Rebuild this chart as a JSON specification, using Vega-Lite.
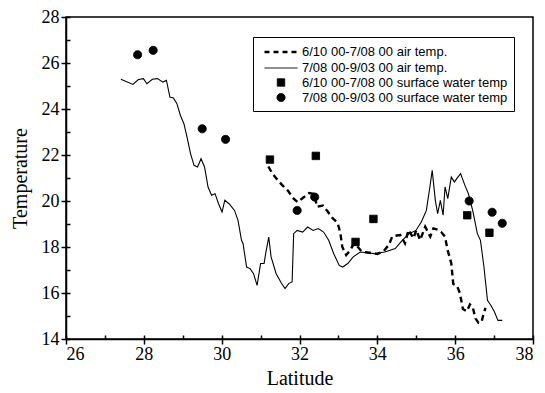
{
  "$schema": "https://vega.github.io/schema/vega-lite/v6.json",
  "width": 467,
  "height": 322,
  "autosize": {"type": "none"},
  "padding": {"left": 66, "top": 17, "right": 12, "bottom": 54},
  "background": "white",
  "config": {
    "view": {"stroke": "black", "strokeWidth": 1.5},
    "axis": {"grid": false, "domainColor": "black", "domainWidth": 1.5, "tickColor": "black", "labelColor": "black", "titleColor": "black", "labelFont": "Liberation Serif", "titleFont": "Liberation Serif", "labelFontSize": 18, "titleFontSize": 20, "titleFontWeight": "normal"}
  },
  "data": {
    "values": [
      {"series": "7/08 00-9/03 00 air temp.", "lat": 27.41, "temp": 25.29},
      {"series": "7/08 00-9/03 00 air temp.", "lat": 27.72, "temp": 25.07},
      {"series": "7/08 00-9/03 00 air temp.", "lat": 27.86, "temp": 25.28},
      {"series": "7/08 00-9/03 00 air temp.", "lat": 27.99, "temp": 25.32},
      {"series": "7/08 00-9/03 00 air temp.", "lat": 28.08, "temp": 25.10},
      {"series": "7/08 00-9/03 00 air temp.", "lat": 28.22, "temp": 25.29},
      {"series": "7/08 00-9/03 00 air temp.", "lat": 28.35, "temp": 25.32},
      {"series": "7/08 00-9/03 00 air temp.", "lat": 28.49, "temp": 25.17},
      {"series": "7/08 00-9/03 00 air temp.", "lat": 28.58, "temp": 25.25},
      {"series": "7/08 00-9/03 00 air temp.", "lat": 28.67, "temp": 24.52},
      {"series": "7/08 00-9/03 00 air temp.", "lat": 28.76, "temp": 24.48},
      {"series": "7/08 00-9/03 00 air temp.", "lat": 28.85, "temp": 24.23},
      {"series": "7/08 00-9/03 00 air temp.", "lat": 28.94, "temp": 23.72},
      {"series": "7/08 00-9/03 00 air temp.", "lat": 29.03, "temp": 23.36},
      {"series": "7/08 00-9/03 00 air temp.", "lat": 29.11, "temp": 22.78},
      {"series": "7/08 00-9/03 00 air temp.", "lat": 29.20, "temp": 22.06},
      {"series": "7/08 00-9/03 00 air temp.", "lat": 29.29, "temp": 21.55},
      {"series": "7/08 00-9/03 00 air temp.", "lat": 29.38, "temp": 21.48},
      {"series": "7/08 00-9/03 00 air temp.", "lat": 29.47, "temp": 21.84},
      {"series": "7/08 00-9/03 00 air temp.", "lat": 29.56, "temp": 21.48},
      {"series": "7/08 00-9/03 00 air temp.", "lat": 29.65, "temp": 20.61},
      {"series": "7/08 00-9/03 00 air temp.", "lat": 29.74, "temp": 20.25},
      {"series": "7/08 00-9/03 00 air temp.", "lat": 29.83, "temp": 20.32},
      {"series": "7/08 00-9/03 00 air temp.", "lat": 29.92, "temp": 19.88},
      {"series": "7/08 00-9/03 00 air temp.", "lat": 30.01, "temp": 19.52},
      {"series": "7/08 00-9/03 00 air temp.", "lat": 30.08, "temp": 20.03},
      {"series": "7/08 00-9/03 00 air temp.", "lat": 30.19, "temp": 19.88},
      {"series": "7/08 00-9/03 00 air temp.", "lat": 30.33, "temp": 19.59},
      {"series": "7/08 00-9/03 00 air temp.", "lat": 30.42, "temp": 19.16},
      {"series": "7/08 00-9/03 00 air temp.", "lat": 30.51, "temp": 18.29},
      {"series": "7/08 00-9/03 00 air temp.", "lat": 30.55, "temp": 18.14},
      {"series": "7/08 00-9/03 00 air temp.", "lat": 30.64, "temp": 17.13},
      {"series": "7/08 00-9/03 00 air temp.", "lat": 30.73, "temp": 17.06},
      {"series": "7/08 00-9/03 00 air temp.", "lat": 30.82, "temp": 16.84},
      {"series": "7/08 00-9/03 00 air temp.", "lat": 30.91, "temp": 16.33},
      {"series": "7/08 00-9/03 00 air temp.", "lat": 31.00, "temp": 17.28},
      {"series": "7/08 00-9/03 00 air temp.", "lat": 31.09, "temp": 17.28},
      {"series": "7/08 00-9/03 00 air temp.", "lat": 31.13, "temp": 17.71},
      {"series": "7/08 00-9/03 00 air temp.", "lat": 31.21, "temp": 18.43},
      {"series": "7/08 00-9/03 00 air temp.", "lat": 31.27, "temp": 17.57},
      {"series": "7/08 00-9/03 00 air temp.", "lat": 31.40, "temp": 16.84},
      {"series": "7/08 00-9/03 00 air temp.", "lat": 31.54, "temp": 16.41},
      {"series": "7/08 00-9/03 00 air temp.", "lat": 31.63, "temp": 16.19},
      {"series": "7/08 00-9/03 00 air temp.", "lat": 31.72, "temp": 16.41},
      {"series": "7/08 00-9/03 00 air temp.", "lat": 31.81, "temp": 16.48},
      {"series": "7/08 00-9/03 00 air temp.", "lat": 31.85, "temp": 18.58},
      {"series": "7/08 00-9/03 00 air temp.", "lat": 31.94, "temp": 18.72},
      {"series": "7/08 00-9/03 00 air temp.", "lat": 32.08, "temp": 18.65},
      {"series": "7/08 00-9/03 00 air temp.", "lat": 32.21, "temp": 18.87},
      {"series": "7/08 00-9/03 00 air temp.", "lat": 32.35, "temp": 18.72},
      {"series": "7/08 00-9/03 00 air temp.", "lat": 32.48, "temp": 18.80},
      {"series": "7/08 00-9/03 00 air temp.", "lat": 32.62, "temp": 18.65},
      {"series": "7/08 00-9/03 00 air temp.", "lat": 32.75, "temp": 18.29},
      {"series": "7/08 00-9/03 00 air temp.", "lat": 32.88, "temp": 17.71},
      {"series": "7/08 00-9/03 00 air temp.", "lat": 33.02, "temp": 17.20},
      {"series": "7/08 00-9/03 00 air temp.", "lat": 33.11, "temp": 17.13},
      {"series": "7/08 00-9/03 00 air temp.", "lat": 33.24, "temp": 17.28},
      {"series": "7/08 00-9/03 00 air temp.", "lat": 33.38, "temp": 17.57},
      {"series": "7/08 00-9/03 00 air temp.", "lat": 33.56, "temp": 17.78},
      {"series": "7/08 00-9/03 00 air temp.", "lat": 33.92, "temp": 17.71},
      {"series": "7/08 00-9/03 00 air temp.", "lat": 34.19, "temp": 17.78},
      {"series": "7/08 00-9/03 00 air temp.", "lat": 34.46, "temp": 17.93},
      {"series": "7/08 00-9/03 00 air temp.", "lat": 34.64, "temp": 18.29},
      {"series": "7/08 00-9/03 00 air temp.", "lat": 34.82, "temp": 18.58},
      {"series": "7/08 00-9/03 00 air temp.", "lat": 34.99, "temp": 18.72},
      {"series": "7/08 00-9/03 00 air temp.", "lat": 35.13, "temp": 19.09},
      {"series": "7/08 00-9/03 00 air temp.", "lat": 35.26, "temp": 19.59},
      {"series": "7/08 00-9/03 00 air temp.", "lat": 35.35, "temp": 20.61},
      {"series": "7/08 00-9/03 00 air temp.", "lat": 35.41, "temp": 21.33},
      {"series": "7/08 00-9/03 00 air temp.", "lat": 35.49, "temp": 20.03},
      {"series": "7/08 00-9/03 00 air temp.", "lat": 35.55, "temp": 19.45},
      {"series": "7/08 00-9/03 00 air temp.", "lat": 35.62, "temp": 20.03},
      {"series": "7/08 00-9/03 00 air temp.", "lat": 35.69, "temp": 19.38},
      {"series": "7/08 00-9/03 00 air temp.", "lat": 35.74, "temp": 20.61},
      {"series": "7/08 00-9/03 00 air temp.", "lat": 35.81, "temp": 20.10},
      {"series": "7/08 00-9/03 00 air temp.", "lat": 35.90, "temp": 21.04},
      {"series": "7/08 00-9/03 00 air temp.", "lat": 35.98, "temp": 20.83},
      {"series": "7/08 00-9/03 00 air temp.", "lat": 36.07, "temp": 21.04},
      {"series": "7/08 00-9/03 00 air temp.", "lat": 36.14, "temp": 21.19},
      {"series": "7/08 00-9/03 00 air temp.", "lat": 36.25, "temp": 20.68},
      {"series": "7/08 00-9/03 00 air temp.", "lat": 36.34, "temp": 20.32},
      {"series": "7/08 00-9/03 00 air temp.", "lat": 36.45, "temp": 19.59},
      {"series": "7/08 00-9/03 00 air temp.", "lat": 36.57, "temp": 18.58},
      {"series": "7/08 00-9/03 00 air temp.", "lat": 36.65, "temp": 18.29},
      {"series": "7/08 00-9/03 00 air temp.", "lat": 36.74, "temp": 17.13},
      {"series": "7/08 00-9/03 00 air temp.", "lat": 36.83, "temp": 15.68},
      {"series": "7/08 00-9/03 00 air temp.", "lat": 36.92, "temp": 15.46},
      {"series": "7/08 00-9/03 00 air temp.", "lat": 37.01, "temp": 15.17},
      {"series": "7/08 00-9/03 00 air temp.", "lat": 37.10, "temp": 14.81},
      {"series": "7/08 00-9/03 00 air temp.", "lat": 37.21, "temp": 14.81},
      {"series": "6/10 00-7/08 00 air temp.", "lat": 31.20, "temp": 21.50},
      {"series": "6/10 00-7/08 00 air temp.", "lat": 31.30, "temp": 21.20},
      {"series": "6/10 00-7/08 00 air temp.", "lat": 31.42, "temp": 20.95},
      {"series": "6/10 00-7/08 00 air temp.", "lat": 31.55, "temp": 20.70},
      {"series": "6/10 00-7/08 00 air temp.", "lat": 31.70, "temp": 20.45},
      {"series": "6/10 00-7/08 00 air temp.", "lat": 31.85, "temp": 20.10},
      {"series": "6/10 00-7/08 00 air temp.", "lat": 31.95, "temp": 19.95},
      {"series": "6/10 00-7/08 00 air temp.", "lat": 32.10, "temp": 20.15},
      {"series": "6/10 00-7/08 00 air temp.", "lat": 32.25, "temp": 20.35},
      {"series": "6/10 00-7/08 00 air temp.", "lat": 32.38, "temp": 20.30},
      {"series": "6/10 00-7/08 00 air temp.", "lat": 32.45, "temp": 19.75},
      {"series": "6/10 00-7/08 00 air temp.", "lat": 32.60, "temp": 19.80},
      {"series": "6/10 00-7/08 00 air temp.", "lat": 32.72, "temp": 19.55},
      {"series": "6/10 00-7/08 00 air temp.", "lat": 32.85, "temp": 19.25},
      {"series": "6/10 00-7/08 00 air temp.", "lat": 32.98, "temp": 19.05},
      {"series": "6/10 00-7/08 00 air temp.", "lat": 33.05, "temp": 18.60},
      {"series": "6/10 00-7/08 00 air temp.", "lat": 33.10, "temp": 18.00},
      {"series": "6/10 00-7/08 00 air temp.", "lat": 33.20, "temp": 17.65},
      {"series": "6/10 00-7/08 00 air temp.", "lat": 33.30, "temp": 17.85},
      {"series": "6/10 00-7/08 00 air temp.", "lat": 33.40, "temp": 18.15},
      {"series": "6/10 00-7/08 00 air temp.", "lat": 33.50, "temp": 18.00},
      {"series": "6/10 00-7/08 00 air temp.", "lat": 33.60, "temp": 17.80},
      {"series": "6/10 00-7/08 00 air temp.", "lat": 33.80, "temp": 17.75},
      {"series": "6/10 00-7/08 00 air temp.", "lat": 34.00, "temp": 17.70},
      {"series": "6/10 00-7/08 00 air temp.", "lat": 34.15, "temp": 17.80},
      {"series": "6/10 00-7/08 00 air temp.", "lat": 34.30, "temp": 18.10},
      {"series": "6/10 00-7/08 00 air temp.", "lat": 34.38, "temp": 18.45},
      {"series": "6/10 00-7/08 00 air temp.", "lat": 34.50, "temp": 18.50},
      {"series": "6/10 00-7/08 00 air temp.", "lat": 34.59, "temp": 18.52},
      {"series": "6/10 00-7/08 00 air temp.", "lat": 34.71, "temp": 18.16},
      {"series": "6/10 00-7/08 00 air temp.", "lat": 34.80, "temp": 18.74},
      {"series": "6/10 00-7/08 00 air temp.", "lat": 34.93, "temp": 18.38},
      {"series": "6/10 00-7/08 00 air temp.", "lat": 35.00, "temp": 18.74},
      {"series": "6/10 00-7/08 00 air temp.", "lat": 35.10, "temp": 18.30},
      {"series": "6/10 00-7/08 00 air temp.", "lat": 35.23, "temp": 18.88},
      {"series": "6/10 00-7/08 00 air temp.", "lat": 35.36, "temp": 18.45},
      {"series": "6/10 00-7/08 00 air temp.", "lat": 35.44, "temp": 18.81},
      {"series": "6/10 00-7/08 00 air temp.", "lat": 35.55, "temp": 18.75},
      {"series": "6/10 00-7/08 00 air temp.", "lat": 35.64, "temp": 18.65},
      {"series": "6/10 00-7/08 00 air temp.", "lat": 35.74, "temp": 18.45},
      {"series": "6/10 00-7/08 00 air temp.", "lat": 35.80, "temp": 17.90},
      {"series": "6/10 00-7/08 00 air temp.", "lat": 35.90, "temp": 17.30},
      {"series": "6/10 00-7/08 00 air temp.", "lat": 35.95, "temp": 16.40},
      {"series": "6/10 00-7/08 00 air temp.", "lat": 36.05, "temp": 16.30},
      {"series": "6/10 00-7/08 00 air temp.", "lat": 36.12, "temp": 16.00},
      {"series": "6/10 00-7/08 00 air temp.", "lat": 36.20, "temp": 15.30},
      {"series": "6/10 00-7/08 00 air temp.", "lat": 36.30, "temp": 15.20},
      {"series": "6/10 00-7/08 00 air temp.", "lat": 36.38, "temp": 15.50},
      {"series": "6/10 00-7/08 00 air temp.", "lat": 36.45, "temp": 15.40},
      {"series": "6/10 00-7/08 00 air temp.", "lat": 36.52, "temp": 14.90},
      {"series": "6/10 00-7/08 00 air temp.", "lat": 36.60, "temp": 14.70},
      {"series": "6/10 00-7/08 00 air temp.", "lat": 36.68, "temp": 14.75},
      {"series": "6/10 00-7/08 00 air temp.", "lat": 36.73, "temp": 15.10},
      {"series": "6/10 00-7/08 00 air temp.", "lat": 36.78, "temp": 15.35},
      {"series": "6/10 00-7/08 00 surface water temp", "lat": 31.24, "temp": 21.80},
      {"series": "6/10 00-7/08 00 surface water temp", "lat": 32.42, "temp": 21.96},
      {"series": "6/10 00-7/08 00 surface water temp", "lat": 33.44, "temp": 18.22},
      {"series": "6/10 00-7/08 00 surface water temp", "lat": 33.90, "temp": 19.22},
      {"series": "6/10 00-7/08 00 surface water temp", "lat": 36.31, "temp": 19.38},
      {"series": "6/10 00-7/08 00 surface water temp", "lat": 36.88, "temp": 18.62},
      {"series": "7/08 00-9/03 00 surface water temp", "lat": 27.84, "temp": 26.36},
      {"series": "7/08 00-9/03 00 surface water temp", "lat": 28.24, "temp": 26.55},
      {"series": "7/08 00-9/03 00 surface water temp", "lat": 29.50, "temp": 23.14},
      {"series": "7/08 00-9/03 00 surface water temp", "lat": 30.10, "temp": 22.68},
      {"series": "7/08 00-9/03 00 surface water temp", "lat": 31.94, "temp": 19.59},
      {"series": "7/08 00-9/03 00 surface water temp", "lat": 32.39, "temp": 20.17},
      {"series": "7/08 00-9/03 00 surface water temp", "lat": 36.36, "temp": 20.00},
      {"series": "7/08 00-9/03 00 surface water temp", "lat": 36.95, "temp": 19.51},
      {"series": "7/08 00-9/03 00 surface water temp", "lat": 37.21, "temp": 19.03}
    ]
  },
  "resolve": {"axis": {"x": "independent", "y": "independent"}},
  "layer": [
    {
      "transform": [{"filter": "datum.series === '7/08 00-9/03 00 air temp.'"}],
      "mark": {"type": "line", "color": "black", "strokeWidth": 1.1},
      "encoding": {
        "x": {"field": "lat", "type": "quantitative", "scale": {"domain": [26, 38], "nice": false, "zero": false},
              "axis": {"orient": "bottom", "values": [26, 28, 30, 32, 34, 36, 38], "tickSize": 5, "tickWidth": 1.5, "labelPadding": 1, "title": "Latitude", "titlePadding": 5}},
        "y": {"field": "temp", "type": "quantitative", "scale": {"domain": [14, 28], "nice": false, "zero": false},
              "axis": {"orient": "left", "values": [14, 16, 18, 20, 22, 24, 26, 28], "tickSize": 5, "tickWidth": 1.5, "labelPadding": 2, "title": "Temperature", "titlePadding": 11}}
      }
    },
    {
      "transform": [{"filter": "datum.series === '6/10 00-7/08 00 air temp.'"}],
      "mark": {"type": "line", "color": "black", "strokeWidth": 2.4, "strokeDash": [6, 4]},
      "encoding": {
        "x": {"field": "lat", "type": "quantitative",
              "axis": {"orient": "bottom", "values": [26, 27, 28, 29, 30, 31, 32, 33, 34, 35, 36, 37, 38], "tickSize": -4, "tickWidth": 1.5, "labels": false, "domain": false, "title": null}},
        "y": {"field": "temp", "type": "quantitative",
              "axis": {"orient": "left", "values": [14, 15, 16, 17, 18, 19, 20, 21, 22, 23, 24, 25, 26, 27, 28], "tickSize": -4, "tickWidth": 1.5, "labels": false, "domain": false, "title": null}}
      }
    },
    {
      "transform": [{"filter": "indexof(datum.series, 'surface') >= 0"}],
      "mark": {"type": "point", "filled": true, "fill": "black", "stroke": "black", "opacity": 1},
      "encoding": {
        "x": {"field": "lat", "type": "quantitative", "axis": null},
        "y": {"field": "temp", "type": "quantitative", "axis": null},
        "shape": {
          "field": "series", "type": "nominal",
          "scale": {
            "domain": ["6/10 00-7/08 00 air temp.", "7/08 00-9/03 00 air temp.", "6/10 00-7/08 00 surface water temp", "7/08 00-9/03 00 surface water temp"],
            "range": ["M-2.2,0H2.2", "M-2.2,0H2.2", "square", "circle"]
          },
          "legend": {
            "title": null, "orient": "none", "legendX": 187, "legendY": 20,
            "strokeColor": "black", "fillColor": "white", "padding": 6,
            "labelFont": "Liberation Sans", "labelFontSize": 13, "labelColor": "black",
            "symbolFillColor": "black", "symbolStrokeColor": "black",
            "symbolOffset": 13, "rowPadding": 1, "labelOffset": 12, "labelLimit": 400
          }
        },
        "size": {
          "field": "series", "type": "nominal",
          "scale": {
            "type": "ordinal",
            "domain": ["6/10 00-7/08 00 air temp.", "7/08 00-9/03 00 air temp.", "6/10 00-7/08 00 surface water temp", "7/08 00-9/03 00 surface water temp"],
            "range": [225, 225, 55, 65]
          }
        },
        "strokeDash": {
          "field": "series", "type": "nominal",
          "scale": {
            "domain": ["6/10 00-7/08 00 air temp.", "7/08 00-9/03 00 air temp.", "6/10 00-7/08 00 surface water temp", "7/08 00-9/03 00 surface water temp"],
            "range": [[5, 4], [1, 0], [1, 0], [1, 0]]
          }
        },
        "strokeWidth": {
          "field": "series", "type": "nominal",
          "scale": {
            "type": "ordinal",
            "domain": ["6/10 00-7/08 00 air temp.", "7/08 00-9/03 00 air temp.", "6/10 00-7/08 00 surface water temp", "7/08 00-9/03 00 surface water temp"],
            "range": [2.4, 1, 1, 1]
          }
        }
      }
    }
  ]
}
